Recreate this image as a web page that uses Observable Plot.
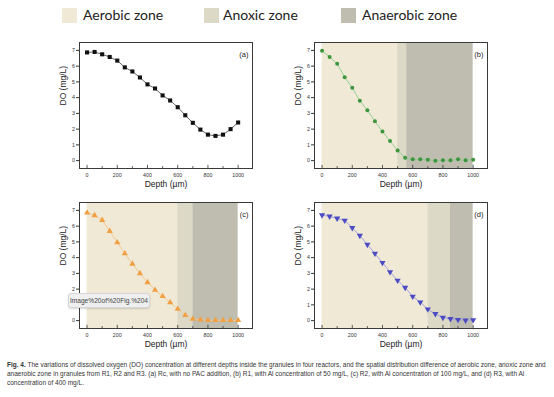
<!DOCTYPE html>
<html>
<head>
<meta charset="utf-8">
<script src="https://cdn.jsdelivr.net/npm/d3@7"></script>
<script src="https://cdn.jsdelivr.net/npm/@observablehq/plot@0.6"></script>
<style>
  html, body { margin: 0; padding: 0; background: #fff; }
  #root { position: relative; width: 554px; height: 397px; overflow: hidden; font-family: "Liberation Sans", Arial, sans-serif; }
  .panel { position: absolute; }
  .legend { position: absolute; top: 0; left: 0; width: 554px; height: 32px; font-family: Lato, "Open Sans", sans-serif; font-size: 14px; color: #222; }
  .legend .sw { position: absolute; top: 8px; width: 15px; height: 15px; }
  .legend .lb { position: absolute; top: 5px; line-height: 20px; white-space: nowrap; }
  .tip { position: absolute; left: 68px; top: 293px; width: 80px; height: 13px; background: #efefef; border: 1px solid #d6d6d6; border-radius: 3px; font-size: 6.6px; line-height: 13px; color: #444; text-align: center; box-shadow: 0 1px 2px rgba(0,0,0,0.15); white-space: nowrap; }
  .caption { position: absolute; left: 7px; top: 360px; width: 545px; font-family: "Liberation Sans Narrow", "Liberation Sans", sans-serif; font-size: 6.5px; line-height: 9px; color: #333; white-space: nowrap; }
</style>
</head>
<body>
<div id="root">
  <div class="legend">
    <div class="sw" style="left:62px;background:#efe9d6"></div><div class="lb" style="left:83px">Aerobic zone</div>
    <div class="sw" style="left:204px;background:#dcd9c6"></div><div class="lb" style="left:223px">Anoxic zone</div>
    <div class="sw" style="left:341px;background:#bfbdb0"></div><div class="lb" style="left:362px">Anaerobic zone</div>
  </div>
  <div id="pa" class="panel" style="left:40px;top:35px"></div>
  <div id="pb" class="panel" style="left:275px;top:35px"></div>
  <div id="pc" class="panel" style="left:40px;top:195px"></div>
  <div id="pd" class="panel" style="left:275px;top:195px"></div>
  <div class="tip">Image%20of%20Fig.%204</div>
  <div class="caption">
    <div><b>Fig. 4.</b> The variations of dissolved oxygen (DO) concentration at different depths inside the granules in four reactors, and the spatial distribution difference of aerobic zone, anoxic zone and</div>
    <div>anaerobic zone in granules from R1, R2 and R3. (a) Rc, with no PAC addition, (b) R1, with Al concentration of 50 mg/L, (c) R2, with Al concentration of 100 mg/L, and (d) R3, with Al</div>
    <div>concentration of 400 mg/L.</div>
  </div>
</div>
<script>
// ---- data ----
const depth = [0, 50, 100, 150, 200, 250, 300, 350, 400, 450, 500, 550, 600, 650, 700, 750, 800, 850, 900, 950, 1000];
const doA = [6.87, 6.90, 6.75, 6.58, 6.35, 5.92, 5.66, 5.28, 4.84, 4.58, 4.14, 3.82, 3.39, 2.88, 2.40, 1.97, 1.65, 1.57, 1.65, 2.00, 2.42];
const doB = [6.98, 6.58, 6.15, 5.30, 4.62, 3.80, 3.20, 2.50, 1.85, 1.25, 0.64, 0.19, 0.08, 0.08, 0.06, 0.00, 0.02, 0.02, 0.08, 0.02, 0.06];
const doC = [6.85, 6.68, 6.38, 5.68, 4.96, 4.26, 3.60, 3.00, 2.43, 1.94, 1.55, 1.15, 0.74, 0.34, 0.10, 0.06, 0.02, 0.02, 0.02, 0.02, 0.02];
const doD = [6.70, 6.62, 6.49, 6.36, 5.89, 5.40, 4.83, 4.26, 3.68, 3.09, 2.55, 2.10, 1.53, 1.17, 0.72, 0.43, 0.19, 0.11, 0.06, 0.02, 0.04];

const zoneNames = ["Aerobic zone", "Anoxic zone", "Anaerobic zone"];
const zoneColors = ["#efe9d6", "#dcd9c6", "#bfbdb0"];
const zonesB = [0, 500, 560, 1000];
const zonesC = [0, 600, 700, 1000];
const zonesD = [0, 700, 850, 1000];

const xTicks = [0, 200, 400, 600, 800, 1000];
const xMinor = [100, 300, 500, 700, 900];
const yTicks = [0, 1, 2, 3, 4, 5, 6, 7];
const panelLabels = ["(a)", "(b)", "(c)", "(d)"];

// ---- drawing ----
const X_DOMAIN = [-50, 1095];
const Y_DOMAIN = [-0.5, 7.5];

function panel(vals, bounds, label, opt) {
  const pts = depth.map((d, i) => ({depth: d, DO: vals[i]}));
  const zones = bounds ? zoneNames.map((n, i) => ({name: n, x1: bounds[i], x2: bounds[i + 1], fill: zoneColors[i]})) : [];
  const marks = [];
  if (bounds) {
    marks.push(Plot.rect(zones, {x1: "x1", x2: "x2", y1: Y_DOMAIN[0], y2: Y_DOMAIN[1], fill: "fill"}));
  }
  marks.push(
    Plot.line(pts, {x: "depth", y: "DO", stroke: opt.line, strokeWidth: 0.9}),
    Plot.dot(pts, {x: "depth", y: "DO", symbol: opt.symbol, r: opt.r, fill: opt.fill, stroke: "none", rotate: opt.rotate || 0}),
    // inward x ticks
    Plot.ruleX(xTicks, {x: d => d, y1: Y_DOMAIN[0], y2: Y_DOMAIN[0] + 0.2, stroke: "#333", strokeWidth: 0.8}),
    Plot.ruleX(xMinor, {x: d => d, y1: Y_DOMAIN[0], y2: Y_DOMAIN[0] + 0.12, stroke: "#333", strokeWidth: 0.8}),
    Plot.axisX({ticks: xTicks, tickSize: 0, tickPadding: 5, fontSize: 5.3, label: null, tickFormat: d => String(d), fill: "#333"}),
    Plot.axisY({ticks: yTicks, tickSize: 3, tickPadding: 1.5, fontSize: 5.3, label: null, fill: "#333", stroke: "#333"}),
    Plot.frame({stroke: "#3a3a3a", strokeWidth: 1}),
    Plot.text([label], {frameAnchor: "top-right", text: d => d, dx: -4, dy: 9, fontSize: 7.5, fill: "#222"}),
    Plot.text(["DO (mg/L)"], {frameAnchor: "left", text: d => d, rotate: -90, dx: -16, fontSize: 8.5, fill: "#222"}),
    Plot.text(["Depth (\u00b5m)"], {frameAnchor: "bottom", text: d => d, dy: 18, fontSize: 8.5, fill: "#222"})
  );
  return Plot.plot({
    width: 240,
    height: 165,
    marginLeft: 39,
    marginRight: 28,
    marginTop: 7,
    marginBottom: 32,
    x: {domain: X_DOMAIN},
    y: {domain: Y_DOMAIN},
    style: {fontFamily: "Liberation Sans, Arial, sans-serif", background: "transparent", overflow: "visible"},
    marks
  });
}

document.getElementById("pa").appendChild(panel(doA, null, panelLabels[0], {symbol: "square", r: 2.3, fill: "#111", line: "#555"}));
document.getElementById("pb").appendChild(panel(doB, zonesB, panelLabels[1], {symbol: "circle", r: 2.0, fill: "#3d963d", line: "#8fcb8f"}));
document.getElementById("pc").appendChild(panel(doC, zonesC, panelLabels[2], {symbol: "triangle", r: 2.3, fill: "#f0a042", line: "#f5c48a"}));
document.getElementById("pd").appendChild(panel(doD, zonesD, panelLabels[3], {symbol: "triangle", r: 2.3, fill: "#4b4bc4", line: "#9c9ce0", rotate: 180}));
</script>
</body>
</html>
